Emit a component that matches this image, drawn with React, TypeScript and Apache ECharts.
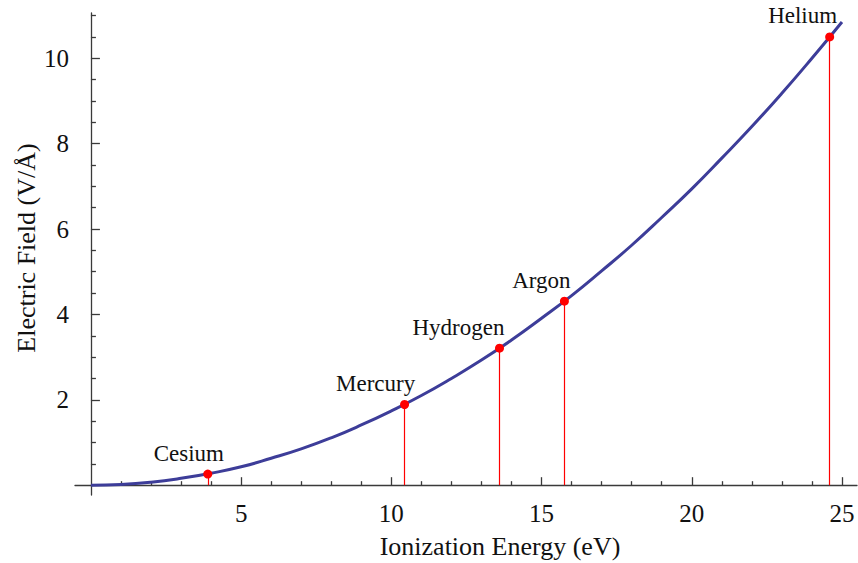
import React, { useEffect, useRef } from "react";
import * as echarts from "echarts";

// Field needed for over-the-barrier ionization, sampled along the curve
const curveEnergy = [0, 1, 2, 3, 4, 5, 6, 7, 8, 9, 10, 11, 12, 13, 14, 15, 16, 17, 18, 19, 20, 21, 22, 23, 24, 25];
const curveField = [0, 0.017, 0.07, 0.16, 0.28, 0.43, 0.63, 0.85, 1.11, 1.41, 1.74, 2.1, 2.5, 2.93, 3.4, 3.91, 4.44, 5.02, 5.62, 6.27, 6.94, 7.66, 8.4, 9.18, 10.0, 10.85];

// Marked elements
const elements = ["Cesium", "Mercury", "Hydrogen", "Argon", "Helium"];
const elementEnergy = [3.89, 10.44, 13.6, 15.76, 24.59];
const elementField = [0.26, 1.89, 3.21, 4.31, 10.5];

// Axis ticks
const xMajorTicks = [5, 10, 15, 20, 25];
const xMinorTicks = [1, 2, 3, 4, 6, 7, 8, 9, 11, 12, 13, 14, 16, 17, 18, 19, 21, 22, 23, 24];
const yMajorTicks = [2, 4, 6, 8, 10];
const yMinorTicks = [0.5, 1, 1.5, 2.5, 3, 3.5, 4.5, 5, 5.5, 6.5, 7, 7.5, 8.5, 9, 9.5, 10.5, 11];

const xTitle = "Ionization Energy (eV)";
const yTitle = "Electric Field (V/Å)";

const SERIF = "'Liberation Serif', 'DejaVu Serif', serif";
const AXIS_COLOR = "#3a3a3a";
const TEXT_COLOR = "#111111";

// horizontal nudges of the element labels
const labelShift = [-19, -29, -41, -23, -27];

const X_MIN = -0.53;
const X_MAX = 25.5;
const Y_MIN = -0.23;
const Y_MAX = 11.06;

export default function App() {
  const ref = useRef<HTMLDivElement>(null);

  useEffect(() => {
    if (!ref.current) return;
    const chart = echarts.init(ref.current, null, { renderer: "svg" });

    const tickLine = { color: AXIS_COLOR, width: 1.3 };

    const option: any = {
      animation: false,
      backgroundColor: "#ffffff",
      grid: {
        left: 75,
        right: 1,
        top: 13,
        bottom: 68,
        containLabel: false,
        outerBoundsMode: "none",
      },
      graphic: [
        {
          type: "text",
          x: 500,
          y: 546,
          style: {
            text: xTitle,
            align: "center",
            verticalAlign: "middle",
            font: `26px ${SERIF}`,
            fill: TEXT_COLOR,
          },
        },
        {
          type: "text",
          x: 26,
          y: 248,
          rotation: Math.PI / 2,
          style: {
            text: yTitle,
            align: "center",
            verticalAlign: "middle",
            font: `26px ${SERIF}`,
            fill: TEXT_COLOR,
          },
        },
      ],
      xAxis: [
        {
          type: "value",
          position: "bottom",
          min: X_MIN,
          max: X_MAX,
          axisLine: { show: true, onZero: true, onZeroAxisIndex: 0, lineStyle: tickLine },
          axisTick: { show: true, inside: true, length: 8, customValues: xMajorTicks, lineStyle: tickLine },
          axisLabel: {
            show: true,
            customValues: xMajorTicks,
            margin: 6,
            fontFamily: SERIF,
            fontSize: 25,
            color: TEXT_COLOR,
          },
          splitLine: { show: false },
        },
        {
          type: "value",
          position: "bottom",
          min: X_MIN,
          max: X_MAX,
          axisLine: { show: false, onZero: true, onZeroAxisIndex: 0 },
          axisTick: { show: true, inside: true, length: 4, customValues: xMinorTicks, lineStyle: tickLine },
          axisLabel: { show: false },
          splitLine: { show: false },
        },
      ],
      yAxis: [
        {
          type: "value",
          position: "left",
          min: Y_MIN,
          max: Y_MAX,
          axisLine: { show: true, onZero: true, onZeroAxisIndex: 0, lineStyle: tickLine },
          axisTick: { show: true, inside: true, length: 9, customValues: yMajorTicks, lineStyle: tickLine },
          axisLabel: {
            show: true,
            customValues: yMajorTicks,
            margin: 6,
            fontFamily: SERIF,
            fontSize: 25,
            color: TEXT_COLOR,
          },
          splitLine: { show: false },
        },
        {
          type: "value",
          position: "left",
          min: Y_MIN,
          max: Y_MAX,
          axisLine: { show: false, onZero: true, onZeroAxisIndex: 0 },
          axisTick: { show: true, inside: true, length: 5, customValues: yMinorTicks, lineStyle: tickLine },
          axisLabel: { show: false },
          splitLine: { show: false },
        },
      ],
      series: [
        {
          type: "line",
          xAxisIndex: 0,
          yAxisIndex: 0,
          data: curveEnergy.map((x, i) => [x, curveField[i]]),
          smooth: true,
          showSymbol: false,
          lineStyle: { color: "#3D3D99", width: 3 },
          z: 2,
          markLine: {
            silent: true,
            symbol: ["none", "none"],
            label: { show: false },
            lineStyle: { color: "#ff0000", width: 1.2, type: "solid" },
            data: elementEnergy.map((x, i) => [
              { coord: [x, 0] },
              { coord: [x, elementField[i]] },
            ]),
          },
        },
        {
          type: "scatter",
          xAxisIndex: 0,
          yAxisIndex: 0,
          z: 10,
          symbolSize: 9,
          itemStyle: { color: "#ff0000", opacity: 1 },
          data: elements.map((name, i) => ({
            name,
            value: [elementEnergy[i], elementField[i]],
            label: { offset: [labelShift[i], 0] },
          })),
          label: {
            show: true,
            position: "top",
            distance: 5,
            formatter: "{b}",
            fontFamily: SERIF,
            fontSize: 23,
            color: TEXT_COLOR,
          },
        },
      ],
    };

    chart.setOption(option);
    return () => chart.dispose();
  }, []);

  return (
    <div
      ref={ref}
      style={{ position: "fixed", left: 0, top: 0, width: 858, height: 563, background: "#fff" }}
    />
  );
}
